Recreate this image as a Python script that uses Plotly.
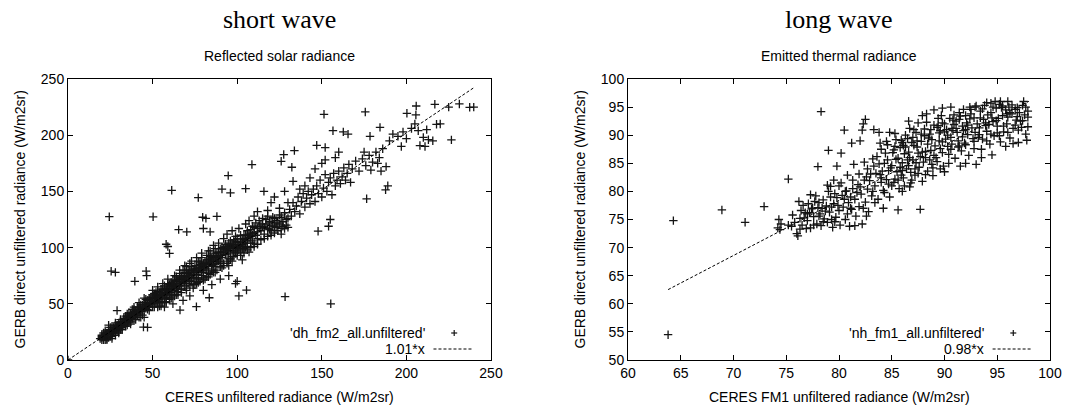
import plotly.graph_objects as go

W, H = 1081, 406

# ---------------- data ----------------
panel_titles = ["short wave", "long wave"]
panel_subtitles = ["Reflected solar radiance", "Emitted thermal radiance"]
x_titles = ["CERES unfiltered radiance (W/m2sr)", "CERES FM1 unfiltered radiance (W/m2sr)"]
y_title = "GERB direct unfiltered radiance (W/m2sr)"
legend_names = ["'dh_fm2_all.unfiltered'", "'nh_fm1_all.unfiltered'"]
fit_labels = ["1.01*x", "0.98*x"]
fit_slopes = [1.01, 0.98]
fit_ranges = [[0, 240], [63.8, 98.0]]
sw_ticks = [0, 50, 100, 150, 200, 250]
lw_xticks = [60, 65, 70, 75, 80, 85, 90, 95, 100]
lw_yticks = [50, 55, 60, 65, 70, 75, 80, 85, 90, 95, 100]

# short wave: (CERES, GERB) pairs
sw_band_low = [
    (19,19),(20,18),(20,22),(21,20),(21,24),(22,18),(22,26),(23,21),(23,24),(24,20),
    (24,27),(24,31),(25,23),(25,26),(26,21),(26,29),(27,24),(27,27),(28,22),(28,31),
    (29,26),(29,29),(30,24),(30,33),(30,28),(31,30),(31,27),(32,34),(32,29),(33,31),
    (33,36),(34,33),(34,39),(35,35),(35,31),(36,38),(36,42),(37,34),(37,40),(38,37),
    (38,45),(39,41),(39,36),(40,44),(40,39),(41,47),(41,42),(42,38),(42,45),(43,49),
    (43,43),(44,40),(44,47),(45,51),(45,44),(45,38),(46,49),(46,54),(47,45),(47,50),
    (20,21),(22,22),(23,18),(25,21),(26,24),(27,25),(29,31),(31,32),(32,27),(33,34),
    (35,37),(36,35),(37,38),(38,40),(39,43),(40,41),(41,40),(42,43),(43,46),(44,45),
    (21,18),(23,19),(24,23),(26,19),(28,26),(30,26),(32,31),(34,36),(36,33),(38,42),
]
sw_band_mid = [
    (48,47),(48,53),(49,56),(49,50),(50,48),(50,55),(51,52),(51,59),(52,50),(52,56),
    (53,61),(53,47),(54,54),(54,58),(55,52),(55,63),(56,57),(56,51),(57,60),(57,66),
    (58,55),(58,62),(59,58),(59,68),(60,63),(60,56),(61,66),(61,60),(62,71),(62,58),
    (63,65),(63,62),(64,68),(64,74),(65,61),(65,70),(66,66),(66,77),(67,72),(67,63),
    (68,69),(68,80),(69,74),(69,66),(70,71),(70,83),(71,68),(71,77),(72,75),(72,86),
    (73,70),(73,80),(74,78),(74,73),(75,84),(75,67),(76,81),(76,76),(77,88),(77,72),
    (78,79),(78,85),(79,75),(79,91),(80,83),(80,78),(81,87),(81,72),(82,93),(82,81),
    (46,46),(47,48),(48,50),(49,53),(50,51),(51,55),(52,53),(53,57),(54,51),(55,56),
    (56,60),(57,55),(58,59),(59,61),(60,60),(61,63),(62,64),(63,68),(64,64),(65,66),
    (66,70),(67,68),(68,72),(69,70),(70,75),(71,73),(72,71),(73,76),(74,81),(75,78),
    (76,73),(77,79),(78,82),(79,80),(80,86),(81,82),(82,85),(83,89),(84,87),(85,91),
    (50,58),(52,60),(55,60),(57,63),(60,67),(62,67),(64,71),(66,73),(69,78),(71,80),
    (62,50),(57,47),(68,53),(72,57),(80,62),(85,67),(90,72),(95,75),(99,68),(100,70),
]
sw_band_high = [
    (83,86),(83,77),(84,90),(84,97),(85,84),(85,80),(86,92),(86,88),(87,99),(87,83),
    (88,95),(88,86),(89,91),(89,104),(90,96),(90,87),(91,100),(91,93),(92,108),(92,84),
    (93,98),(93,103),(94,95),(94,112),(95,101),(95,90),(96,106),(96,97),(97,115),(97,92),
    (98,103),(98,99),(99,110),(99,95),(100,105),(100,100),(101,98),(101,117),(102,93),(102,108),
    (103,103),(103,89),(104,111),(104,99),(105,121),(105,106),(106,101),(106,115),(107,96),(107,124),
    (108,110),(108,104),(109,119),(110,113),(110,101),(111,122),(112,117),(112,108),(113,124),(114,115),
    (115,119),(115,126),(116,112),(117,121),(118,117),(118,128),(119,123),(120,115),(121,120),(122,126),
    (123,118),(124,122),(125,129),(126,117),(127,123),(128,131),(129,120),(130,126),(131,134),(132,128),
    (86,85),(87,90),(88,92),(89,88),(90,93),(91,96),(92,99),(93,94),(94,101),(95,97),
    (96,102),(97,99),(98,107),(99,101),(100,97),(101,105),(102,101),(103,108),(104,104),(105,100),
    (106,108),(107,112),(108,116),(109,106),(110,118),(111,111),(112,114),(113,119),(114,121),(116,118),
    (117,125),(119,116),(120,122),(121,127),(122,119),(123,124),(125,121),(126,127),(127,119),(129,125),
    (110,128),(112,132),(118,133),(120,140),(125,135),(122,145),(130,140),(128,150),(137,152),(140,155),
]
sw_band_fill = [
    (20,20),(21,22),(22,21),(23,23),(24,25),(25,25),(26,27),(27,29),(28,28),(29,30),
    (30,30),(31,34),(32,32),(33,37),(34,35),(35,39),(36,37),(37,41),(38,39),(39,45),
    (40,42),(41,44),(42,47),(43,44),(44,49),(45,47),(46,51),(47,53),(48,55),(49,51),
    (50,53),(51,57),(52,58),(53,55),(54,60),(55,58),(56,62),(57,58),(58,64),(59,63),
    (60,65),(61,69),(62,66),(63,70),(64,66),(65,72),(66,68),(67,75),(68,74),(69,72),
    (70,78),(71,75),(72,79),(73,83),(74,76),(75,80),(76,84),(77,82),(78,87),(79,84),
    (80,80),(81,85),(82,89),(83,83),(84,92),(85,88),(86,95),(87,93),(88,89),(89,96),
    (90,99),(91,91),(92,96),(93,101),(94,98),(95,104),(96,100),(97,103),(98,96),(99,105),
    (100,108),(101,102),(102,111),(103,99),(104,107),(105,111),(106,104),(107,109),(108,113),(109,111),
    (34,30),(37,32),(40,36),(43,38),(48,44),(51,47),(54,48),(58,51),(61,55),(64,58),
    (67,60),(70,64),(74,67),(77,69),(80,73),(83,74),(87,78),(91,82),(94,86),(97,88),
    (22,23),(25,29),(28,33),(31,36),(35,41),(39,47),(42,51),(45,55),(50,62),(53,65),
    (56,68),(59,72),(63,75),(66,80),(69,84),(73,88),(76,91),(79,95),(83,97),(86,102),
]
sw_band_lower = [
    (55,48),(58,52),(60,54),(63,57),(65,58),(67,63),(70,62),(72,66),(74,64),(76,68),
    (78,70),(80,71),(82,74),(84,76),(86,78),(88,80),(90,83),(92,86),(94,88),(96,90),
    (98,92),(100,93),(102,96),(104,95),(106,98),(108,100),(110,104),(112,103),(114,107),(116,108),
    (118,110),(120,111),(122,113),(124,115),(126,112),(128,117),(130,118),(75,73),(85,79),(95,84),
]
sw_sparse = [
    (133,140),(134,132),(135,137),(136,145),(137,130),(138,141),(139,148),(140,136),(141,144),(142,150),
    (143,139),(144,147),(145,152),(146,141),(147,155),(148,148),(149,160),(150,145),(151,153),(152,165),
    (153,150),(154,158),(155,162),(156,147),(157,166),(158,155),(159,160),(160,168),(161,157),(162,163),
    (163,171),(164,160),(165,166),(166,174),(167,158),(168,170),(170,177),(172,168),(174,179),(176,173),
    (178,182),(180,176),(182,185),(184,180),(186,188),(188,172),(185,168),(183,175),(179,169),(175,185),
    (190,195),(192,201),(195,199),(198,203),(200,197),(203,206),(207,204),(205,210),(210,198),(212,205),
    (143,162),(146,170),(150,175),(152,178),(158,180),(160,185),(147,191),(152,189),(220,210),(225,225),
]
sw_outliers = [
    (24.4,127.5),(25.5,79),(28,78),(29,44),(39.5,70),(46.2,79),(46.5,75),(44.6,29.3),(47,29),(50.3,127.4),
    (58,103),(59,101),(60,94.8),(61.3,151),(65.4,116),(70.2,114),(66.2,44.4),(75.9,47.4),(77,144.5),(79.6,127),
    (81.5,126),(80,117),(84,114),(83.5,55.4),(88,127.7),(91,152),(94.7,164),(96,148.7),(101,57),(105.5,62.2),
    (105,152.5),(108.7,173.9),(115.8,150),(126,176.8),(127.5,182.8),(128.3,56.3),(132.3,171.5),(133,159),(133.8,186.3),(147.8,114.6),
    (154,119),(155,125),(151.3,218.6),(155.3,50),(156.6,204),(162.7,203),(165.5,201),(175.7,220.7),(176.5,143.4),(178.5,199),
    (184.4,207),(187.7,151.4),(189,155),(197,190),(200.3,219.5),(205.8,226),(205.6,218),(208,190.8),(211,190),(213,196),
    (215.6,195),(216.8,227.5),(217.8,209.7),(226.6,195.8),(231.3,227.8),(237.4,224.8),(239.8,225),(0,0),
]

# long wave: (CERES FM1, GERB) pairs
lw_band_low = [
    (75.5,73.8),(75.8,74.5),(76.0,72.5),(76.1,72.1),(76.3,75.2),(76.5,74.0),(76.6,77.5),(76.8,76.2),(77.0,74.8),(77.1,77.8),
    (77.3,73.5),(77.4,76.9),(77.6,75.5),(77.7,78.2),(77.9,74.2),(78.0,77.1),(78.2,76.0),(78.3,73.9),(78.5,78.5),(78.6,75.1),
    (78.8,77.4),(78.9,74.5),(79.1,76.3),(79.2,79.0),(79.4,73.6),(79.5,77.8),(79.7,75.4),(79.8,78.9),(80.0,76.6),(80.1,74.0),
    (80.3,79.3),(80.4,77.2),(80.6,75.0),(80.7,80.1),(80.9,78.0),(81.0,73.8),(81.2,76.8),(81.3,80.5),(81.5,78.6),(81.6,75.6),
    (81.8,81.2),(81.9,77.3),(82.1,79.5),(82.2,74.2),(82.4,82.0),(82.5,78.1),(82.7,80.4),(82.8,76.4),(83.0,83.1),(83.1,79.2),
    (75.2,74.0),(75.6,75.8),(76.2,78.2),(76.9,73.4),(77.2,76.2),(77.8,79.2),(78.4,77.0),(79.0,80.0),(79.6,74.6),(80.2,81.5),
    (74.3,75.0),(74.4,73.2),(74.5,74.2),(74.2,73.5),(79.5,82.0),(80.8,82.9),(81.4,84.8),(81.9,83.1),(82.4,85.2),(82.7,84.0),
    (80.0,81.0),(79.2,80.9),(78.9,81.1),(80.6,80.0),(81.3,82.0),(77.5,77.0),(76.4,76.6),(78.1,75.6),(79.3,77.2),(81.1,79.0),
    (76.3,73.3),(76.7,75.3),(77.0,76.0),(77.6,74.0),(78.1,78.0),(78.7,76.5),(79.3,75.0),(79.9,77.5),(80.5,78.6),(81.1,77.0),
    (81.7,79.8),(82.3,77.0),(82.9,81.9),(83.4,78.0),(80.8,76.0),(79.6,79.6),(78.5,74.6),(77.3,79.4),(81.5,73.9),(82.6,75.6),
]
lw_band_mid = [
    (83.3,84.5),(83.4,81.0),(83.6,86.2),(83.7,78.6),(83.9,83.0),(84.0,87.5),(84.2,80.2),(84.3,85.0),(84.5,82.1),(84.6,88.3),
    (84.8,79.0),(84.9,84.2),(85.1,86.9),(85.2,81.6),(85.4,89.2),(85.5,83.5),(85.7,80.5),(85.8,87.8),(86.0,85.1),(86.1,82.4),
    (86.3,90.0),(86.4,84.0),(86.6,87.0),(86.7,80.8),(86.9,88.7),(87.0,85.6),(87.2,82.9),(87.3,90.5),(87.5,86.8),(87.6,84.3),
    (87.8,88.9),(87.9,81.8),(88.1,91.1),(88.2,86.0),(88.4,83.6),(88.5,89.5),(88.7,87.3),(88.8,84.8),(89.0,91.8),(89.1,88.1),
    (83.5,83.2),(84.4,86.8),(85.0,84.6),(85.6,85.9),(86.2,86.7),(86.8,83.4),(87.4,87.9),(88.0,85.2),(88.6,90.2),(89.2,86.0),
    (85.3,88.0),(86.5,89.4),(87.1,91.0),(88.3,92.3),(89.4,93.0),(84.1,83.6),(85.9,82.9),(86.8,81.5),(87.2,84.0),(88.9,82.8),
    (83.2,80.0),(84.7,81.3),(85.4,85.7),(86.3,87.9),(87.7,86.2),(88.4,88.4),(86.0,80.0),(84.0,82.4),(85.8,84.3),(87.0,89.6),
    (82.0,80.8),(82.6,82.6),(83.2,85.8),(83.8,84.9),(84.5,88.9),(85.2,87.4),(85.9,89.1),(86.5,85.6),(87.1,88.2),(87.8,90.2),
    (84.0,81.6),(84.7,83.7),(85.3,82.2),(86.0,83.7),(86.6,84.6),(87.3,85.1),(87.9,87.0),(88.6,85.6),(86.1,88.2),(86.7,86.0),
    (87.4,89.0),(88.1,89.9),(88.7,91.0),(84.3,79.8),(85.0,81.0),(85.6,82.0),(86.2,81.0),(86.9,82.0),(87.5,83.2),(88.2,83.0),
    (83.9,88.6),(84.6,85.6),(85.3,90.3),(86.0,88.7),(86.7,91.2),(87.5,92.2),(88.3,93.8),(88.9,84.2),(88.2,87.1),(88.8,89.2),
]
lw_band_high = [
    (89.3,85.3),(89.5,90.4),(89.6,87.6),(89.8,92.2),(89.9,84.5),(90.1,89.3),(90.2,91.0),(90.4,86.6),(90.5,93.0),(90.7,88.4),
    (90.8,90.8),(91.0,85.9),(91.1,92.5),(91.3,89.0),(91.4,94.0),(91.6,87.2),(91.7,91.6),(91.9,88.6),(92.0,93.5),(92.2,90.1),
    (92.3,86.4),(92.5,94.6),(92.6,91.3),(92.8,88.9),(92.9,95.0),(93.1,92.0),(93.2,89.6),(93.4,94.3),(93.5,87.5),(93.7,92.8),
    (93.8,95.3),(94.0,90.7),(94.1,93.6),(94.3,88.4),(94.4,95.7),(94.6,92.4),(94.7,89.9),(94.9,94.8),(95.0,91.6),(95.2,95.5),
    (95.3,88.8),(95.5,93.5),(95.6,90.6),(95.8,94.5),(95.9,92.0),(96.1,95.0),(96.2,89.5),(96.4,93.8),(96.5,91.2),(96.7,94.6),
    (96.8,92.7),(97.0,90.9),(97.1,94.0),(97.3,91.4),(97.4,95.3),(97.6,93.6),(97.7,90.2),(97.9,94.3),(97.8,89.1),(97.9,91.5),
    (93.5,86.0),(94.5,86.5),(92.0,85.0),(91.5,84.5),(90.0,83.5),(95.8,88.0),(96.5,88.5),(97.0,88.7),(93.0,84.8),(94.0,89.0),
    (94.0,95.8),(94.8,96.0),(95.5,95.2),(96.0,96.0),(97.5,96.0),(93.0,95.2),(92.5,93.8),(91.5,93.4),(90.8,92.7),(89.7,93.5),
    (89.6,90.8),(90.3,88.0),(91.2,90.5),(92.1,92.2),(92.7,89.4),(93.3,91.3),(94.2,91.9),(95.1,93.0),(96.0,93.2),(96.9,93.3),
    (89.3,91.4),(89.8,88.8),(90.3,90.0),(90.9,91.9),(91.4,88.1),(91.8,90.8),(92.4,92.9),(92.9,90.5),(93.4,93.1),(93.9,91.7),
    (94.4,94.0),(94.9,92.6),(95.4,94.9),(95.9,93.8),(96.4,95.4),(96.9,94.9),(97.4,92.6),(97.9,93.2),(89.0,86.4),(89.8,86.9),
    (90.6,87.5),(91.3,87.9),(92.0,88.3),(92.8,87.6),(93.6,89.3),(94.4,90.2),(95.2,89.9),(96.0,90.5),(89.5,89.0),(90.0,90.6),
    (90.6,89.6),(91.1,91.2),(91.7,89.7),(92.2,91.8),(92.8,93.1),(93.3,90.1),(93.9,92.2),(94.5,93.1),(95.0,90.4),(95.6,91.6),
    (96.2,94.0),(96.7,91.8),(97.2,92.5),(97.7,95.0),(95.3,96.0),(94.6,95.0),(93.6,94.7),(92.4,95.0),(91.8,94.6),(90.9,93.6),
    (89.4,91.7),(90.0,92.0),(90.7,91.2),(91.4,92.8),(92.0,91.0),(89.6,84.0),(90.4,85.0),(89.0,94.5),(89.8,94.8),(90.6,95.0),
]
lw_outliers = [
    (63.8,54.5),(64.3,74.8),(68.9,76.7),(71.1,74.5),(72.9,77.3),(75.2,82.2),(78.3,94.2),(78.0,84.4),(79.0,87.3),(80.5,90.9),
    (80.2,86.8),(81.2,88.6),(82.0,89.0),(82.2,90.9),(82.3,92.0),(82.5,92.8),(79.8,84.5),(85.6,76.7),(87.7,76.8),(84.2,77.0),
    (83.3,91.0),(83.8,90.5),(84.8,90.5),(87.9,93.5),(86.6,92.5),
]

sw_points = sw_band_low + sw_band_mid + sw_band_high + sw_band_fill + sw_band_lower + sw_sparse + sw_outliers
lw_points = lw_band_low + lw_band_mid + lw_band_high + lw_outliers

# ---------------- layout geometry (pixels) ----------------
plots = [
    dict(x0=68, x1=491, xr=[0, 250], yr=[0, 250], xt=sw_ticks, yt=sw_ticks),
    dict(x0=628, x1=1050, xr=[60, 100], yr=[50, 100], xt=lw_xticks, yt=lw_yticks),
]
PY0, PY1 = 79, 360  # top, bottom of plotting area


def px(x):
    return x / W


def py(y):
    return 1 - y / H


fig = go.Figure()
FONT = "Liberation Sans, Arial, sans-serif"
SERIF = "Liberation Serif, Times New Roman, serif"
MARK = "#141414"
FS = 14

for i, (pts, p) in enumerate(zip([sw_points, lw_points], plots)):
    ax = "" if i == 0 else "2"
    xs = [a for a, b in pts]
    ys = [b for a, b in pts]
    fig.add_trace(go.Scatter(
        x=xs, y=ys, mode="markers", xaxis="x" + ax, yaxis="y" + ax,
        marker=dict(symbol="cross-thin", size=6, line=dict(width=1.3, color=MARK)),
        showlegend=False, hoverinfo="skip", cliponaxis=True))
    lx = fit_ranges[i]
    fig.add_trace(go.Scatter(
        x=lx, y=[fit_slopes[i] * v for v in lx], mode="lines",
        xaxis="x" + ax, yaxis="y" + ax,
        line=dict(color="black", width=1, dash="3px,2px"),
        showlegend=False, hoverinfo="skip"))

    axis_common = dict(showline=True, linecolor="black", linewidth=1, mirror="ticks",
                       ticks="inside", ticklen=5, tickwidth=1, tickcolor="black",
                       showgrid=False, zeroline=False, automargin=False,
                       tickfont=dict(family=FONT, size=FS, color="black"))
    fig.layout["xaxis" + ax] = dict(axis_common, domain=[px(p["x0"]), px(p["x1"])],
                                    range=p["xr"], tickvals=p["xt"],
                                    anchor="y" + ax)
    fig.layout["yaxis" + ax] = dict(axis_common, domain=[py(PY1), py(PY0)],
                                    range=p["yr"], tickvals=p["yt"],
                                    anchor="x" + ax)

    cx = (p["x0"] + p["x1"]) / 2
    # panel title (serif) and subtitle
    fig.add_annotation(x=px(cx), y=py(19), xref="paper", yref="paper", text=panel_titles[i],
                       showarrow=False, font=dict(family=SERIF, size=26, color="black"),
                       xanchor="center", yanchor="middle")
    fig.add_annotation(x=px(cx), y=py(56), xref="paper", yref="paper", text=panel_subtitles[i],
                       showarrow=False, font=dict(family=FONT, size=FS, color="black"),
                       xanchor="center", yanchor="middle")
    # axis titles
    fig.add_annotation(x=px(cx), y=py(397), xref="paper", yref="paper", text=x_titles[i],
                       showarrow=False, font=dict(family=FONT, size=FS, color="black"),
                       xanchor="center", yanchor="middle")
    fig.add_annotation(x=px(p["x0"] - 49), y=py((PY0 + PY1) / 2), xref="paper", yref="paper",
                       text=y_title, textangle=-90, showarrow=False,
                       font=dict(family=FONT, size=FS, color="black"),
                       xanchor="center", yanchor="middle")

    # legend (inside, lower right)
    wpx = p["x1"] - p["x0"]

    def dx(v):
        return px(p["x0"] + v * wpx)
    ty1, ty2 = 333, 349
    fig.add_annotation(x=dx(0.848), y=py(ty1), xref="paper", yref="paper", text=legend_names[i],
                       showarrow=False, font=dict(family=FONT, size=FS, color="black"),
                       xanchor="right", yanchor="middle")
    fig.add_annotation(x=dx(0.848), y=py(ty2), xref="paper", yref="paper", text=fit_labels[i],
                       showarrow=False, font=dict(family=FONT, size=FS, color="black"),
                       xanchor="right", yanchor="middle")
    mx = p["x0"] + 0.913 * wpx
    fig.add_shape(type="line", xref="paper", yref="paper", x0=px(mx - 3), x1=px(mx + 3),
                  y0=py(ty1), y1=py(ty1), line=dict(color=MARK, width=1.2))
    fig.add_shape(type="line", xref="paper", yref="paper", x0=px(mx), x1=px(mx),
                  y0=py(ty1 - 3), y1=py(ty1 + 3), line=dict(color=MARK, width=1.2))
    fig.add_shape(type="line", xref="paper", yref="paper",
                  x0=dx(0.864), x1=dx(0.957), y0=py(ty2), y1=py(ty2),
                  line=dict(color="black", width=1, dash="3px,2px"))

fig.update_layout(width=W, height=H, margin=dict(l=0, r=0, t=0, b=0),
                  paper_bgcolor="white", plot_bgcolor="white", showlegend=False)

fig.write_html("out.html", config={"displayModeBar": False, "staticPlot": True},
               post_script="document.body.style.margin='0';document.body.style.overflow='hidden';")
